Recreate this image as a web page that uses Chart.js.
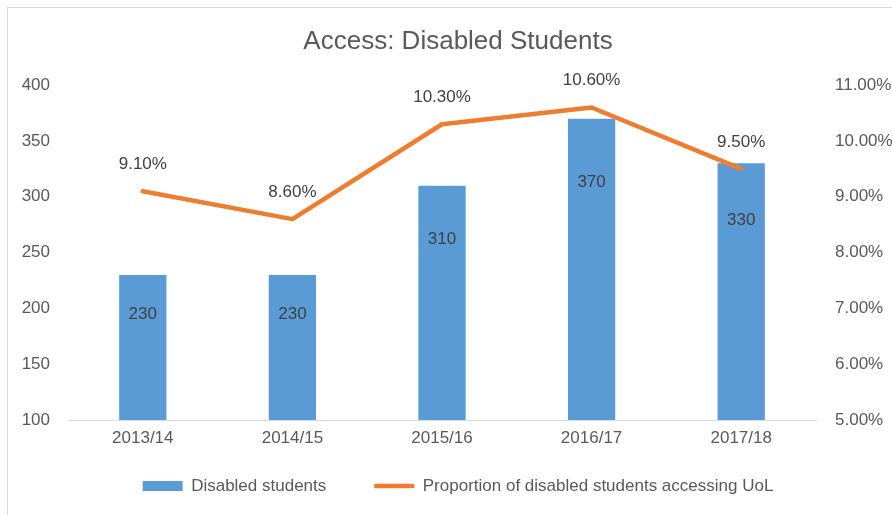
<!DOCTYPE html>
<html>
<head>
<meta charset="utf-8">
<script src="https://cdn.jsdelivr.net/npm/chart.js@4.4.1/dist/chart.umd.min.js"></script>
<style>
  html, body { margin: 0; padding: 0; background: #fff; overflow: hidden; width: 892px; height: 515px; }
  #frame { position: absolute; left: 7px; top: 7px; width: 900px; height: 520px; border: 1px solid #d9d9d9; }
  canvas { display: block; }
</style>
</head>
<body>
<div id="frame"><canvas id="accessChart" width="900" height="507"></canvas></div>
<script>
const years = ['2013/14', '2014/15', '2015/16', '2016/17', '2017/18'];
const disabledStudents = [230, 230, 310, 370, 330];
const proportionUoL = [9.1, 8.6, 10.3, 10.6, 9.5];
const leftTicks = [100, 150, 200, 250, 300, 350, 400];
const rightTicks = [5, 6, 7, 8, 9, 10, 11];

const BLUE = '#5B9BD5';
const ORANGE = '#ED7D31';
const GREY = '#595959';
const FONT = "'Liberation Sans', Arial, sans-serif";

// labels drawn on the bars and above the line points
const valueLabels = {
  id: 'valueLabels',
  afterDatasetsDraw(chart) {
    const ctx = chart.ctx;
    const yLeft = chart.scales.y;
    ctx.save();
    ctx.font = '17px ' + FONT;
    ctx.fillStyle = '#404040';
    ctx.textAlign = 'center';
    ctx.textBaseline = 'middle';
    chart.getDatasetMeta(0).data.forEach((bar, i) => {
      const v = disabledStudents[i];
      ctx.fillText(String(v), bar.x, yLeft.getPixelForValue(v * 0.845));
    });
    chart.getDatasetMeta(1).data.forEach((pt, i) => {
      ctx.fillText(proportionUoL[i].toFixed(2) + '%', pt.x, pt.y - 27);
    });
    ctx.restore();
  }
};

// the legend padding doubles as the gap between items; pull the legend up a bit
const legendLift = {
  id: 'legendLift',
  afterLayout(chart) {
    const lg = chart.legend;
    if (lg) { lg.top -= 20.5; lg.bottom -= 20.5; }
  }
};

new Chart(document.getElementById('accessChart'), {
  data: {
    labels: years,
    datasets: [{
      type: 'bar',
      label: 'Disabled students',
      data: disabledStudents,
      backgroundColor: BLUE,
      borderWidth: 0,
      categoryPercentage: 1,
      barPercentage: 0.316,
      yAxisID: 'y',
      order: 1
    }, {
      type: 'line',
      label: 'Proportion of disabled students accessing UoL',
      data: proportionUoL,
      borderColor: ORANGE,
      backgroundColor: ORANGE,
      borderWidth: 4.5,
      borderCapStyle: 'round',
      borderJoinStyle: 'round',
      pointRadius: 0,
      tension: 0,
      fill: false,
      yAxisID: 'y1',
      order: 0
    }]
  },
  options: {
    responsive: false,
    animation: false,
    devicePixelRatio: 1,
    layout: { padding: { left: 0, right: 0, top: 0, bottom: -10 } },
    plugins: {
      tooltip: { enabled: false },
      title: {
        display: true,
        text: 'Access: Disabled Students',
        color: GREY,
        font: { family: FONT, size: 26, weight: 'normal' },
        padding: { top: 18, bottom: 28 }
      },
      legend: {
        position: 'bottom',
        labels: {
          color: GREY,
          font: { family: FONT, size: 17 },
          usePointStyle: true,
          pointStyleWidth: 40,
          boxHeight: 10,
          padding: 48,
          sort: (a, b) => a.datasetIndex - b.datasetIndex,
          generateLabels(chart) {
            const items = Chart.defaults.plugins.legend.labels.generateLabels(chart);
            items.forEach(item => {
              if (item.datasetIndex === 1) {
                item.pointStyle = 'line';
                item.strokeStyle = ORANGE;
                item.lineWidth = 4.5;
              } else {
                item.pointStyle = 'rect';
                item.fillStyle = BLUE;
                item.lineWidth = 0;
              }
            });
            return items;
          }
        }
      }
    },
    scales: {
      x: {
        grid: { display: false, drawTicks: false },
        border: { display: true, color: '#d9d9d9', width: 1 },
        ticks: { color: GREY, font: { family: FONT, size: 17 }, padding: 8 },
        afterFit(s) { s.height = 30; }
      },
      y: {
        position: 'left',
        min: 100,
        max: 400,
        grid: { display: false, drawTicks: false },
        border: { display: false },
        afterBuildTicks(s) { s.ticks = leftTicks.map(v => ({ value: v })); },
        ticks: { color: GREY, font: { family: FONT, size: 17 }, padding: 18 },
        afterFit(s) { s.width = 60; }
      },
      y1: {
        position: 'right',
        min: 5,
        max: 11,
        grid: { display: false, drawTicks: false },
        border: { display: false },
        afterBuildTicks(s) { s.ticks = rightTicks.map(v => ({ value: v })); },
        ticks: {
          color: GREY,
          font: { family: FONT, size: 17 },
          padding: 19,
          callback: v => v.toFixed(2) + '%'
        },
        afterFit(s) { s.width = 92; }
      }
    }
  },
  plugins: [valueLabels, legendLift]
});
</script>
</body>
</html>
